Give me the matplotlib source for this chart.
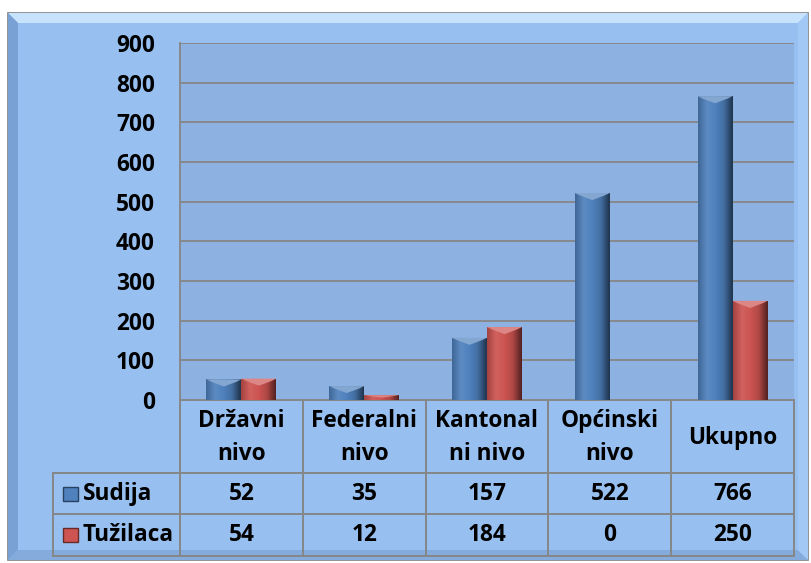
import numpy as np
import matplotlib
matplotlib.use('Agg')
import matplotlib.pyplot as plt
from matplotlib.patches import Rectangle, Polygon
from matplotlib.colors import LinearSegmentedColormap

# 數據
categories = ['Državni\nnivo', 'Federalni\nnivo', 'Kantonal\nni nivo', 'Općinski\nnivo', 'Ukupno']
series_names = ['Sudija', 'Tužilaca']
sudija = [52, 35, 157, 522, 766]
tuzilaca = [54, 12, 184, 0, 250]
y_ticks = [0, 100, 200, 300, 400, 500, 600, 700, 800, 900]

W, H = 812, 563
FONT = 'Open Sans'
FS = 16.3

# 版面 (像素)
plot_l, plot_r, plot_t, plot_b = 180, 794, 43, 400
tab_l = 53
row_lines = [400, 473, 514, 556]

outer_bg = '#97bff0'
plot_bg = '#8db2e2'
grid_c = '#868686'
blue = '#4f81bd'
red = '#cd5451'

fig = plt.figure(figsize=(W / 100, H / 100), dpi=100)
fig.patch.set_facecolor('white')

# 背景/框架層
bg = fig.add_axes([0, 0, 1, 1])
bg.set_xlim(0, W)
bg.set_ylim(H, 0)
bg.axis('off')
fx0, fy0, fx1, fy1 = 8, 13, 808, 560
bg.add_patch(Rectangle((fx0, fy0), fx1 - fx0, fy1 - fy0, facecolor=outer_bg,
                       edgecolor='#7f7f7f', linewidth=1.2, zorder=0))
b = 10
bg.add_patch(Polygon([(fx0, fy0), (fx1, fy0), (fx1 - b, fy0 + b), (fx0 + b, fy0 + b)],
                     closed=True, facecolor='#c6e2fd', edgecolor='none', zorder=1))
bg.add_patch(Polygon([(fx0, fy0), (fx0 + b, fy0 + b), (fx0 + b, fy1 - b), (fx0, fy1)],
                     closed=True, facecolor='#7aa1d3', edgecolor='none', zorder=1))
bg.add_patch(Polygon([(fx0, fy1), (fx0 + b, fy1 - b), (fx1 - b, fy1 - b), (fx1, fy1)],
                     closed=True, facecolor='#84abdc', edgecolor='none', zorder=1))
bg.add_patch(Polygon([(fx1, fy0), (fx1 - b, fy0 + b), (fx1 - b, fy1 - b), (fx1, fy1)],
                     closed=True, facecolor='#a2c8f5', edgecolor='none', zorder=1))
bg.add_patch(Rectangle((fx0 + b, fy0 + b), fx1 - fx0 - 2 * b, fy1 - fy0 - 2 * b,
                       facecolor=outer_bg, edgecolor='none', zorder=1))

# 柱狀圖
ax = fig.add_axes([plot_l / W, 1 - plot_b / H, (plot_r - plot_l) / W, (plot_b - plot_t) / H])
ax.set_facecolor(plot_bg)
ax.set_xlim(-0.5, len(categories) - 0.5)
ax.set_ylim(0, 900)
ax.set_yticks(y_ticks)
ax.set_xticks([])
ax.yaxis.grid(True, color=grid_c, linewidth=1.3)
ax.set_axisbelow(True)
for s in ['top', 'right', 'bottom']:
    ax.spines[s].set_visible(False)
ax.spines['left'].set_color(grid_c)
ax.spines['left'].set_linewidth(1.3)
ax.tick_params(axis='y', length=0, pad=18)
for lab in ax.get_yticklabels():
    lab.set_fontfamily(FONT)
    lab.set_fontweight('bold')
    lab.set_fontsize(FS)

bw = 0.285
x = np.arange(len(categories))


def shade(c, f):
    c = np.array(matplotlib.colors.to_rgb(c))
    if f < 1:
        return tuple(c * f)
    return tuple(c + (1 - c) * (f - 1))


def fancy_bars(xs, vals, color):
    cmap = LinearSegmentedColormap.from_list('g', [shade(color, 0.8), shade(color, 1.08),
                                                   color, shade(color, 0.85), shade(color, 0.4)])
    grad = np.linspace(0, 1, 64).reshape(1, -1)
    bars = ax.bar(xs, vals, bw, color=color, zorder=2, linewidth=0)
    for rect, v in zip(bars, vals):
        if v <= 0:
            continue
        x0 = rect.get_x()
        im = ax.imshow(grad, cmap=cmap, aspect='auto', extent=(x0, x0 + bw, 0, v),
                       zorder=3, interpolation='bicubic')
        im.set_clip_path(rect)
        # 頂部的V形高光
        cap = min(18, v * 0.5)
        ax.add_patch(Polygon([(x0, v), (x0 + bw, v), (x0 + bw * 0.85, v - cap * 0.35),
                              (x0 + bw * 0.5, v - cap), (x0 + bw * 0.15, v - cap * 0.35)],
                             closed=True, facecolor=shade(color, 1.3), edgecolor='none',
                             zorder=4))


fancy_bars(x - bw / 2, sudija, blue)
fancy_bars(x + bw / 2, tuzilaca, red)

# 數據表
col_w = (plot_r - plot_l) / len(categories)
lc = grid_c
lw = 1.4
col_edges = [plot_l + i * col_w for i in range(len(categories) + 1)]
for xe in col_edges:
    bg.plot([xe, xe], [row_lines[0], row_lines[-1]], color=lc, lw=lw, zorder=5)
bg.plot([tab_l, tab_l], [row_lines[1], row_lines[-1]], color=lc, lw=lw, zorder=5)
bg.plot([plot_l, plot_r], [row_lines[0], row_lines[0]], color=lc, lw=lw, zorder=5)
for yl in row_lines[1:]:
    bg.plot([tab_l, plot_r], [yl, yl], color=lc, lw=lw, zorder=5)

txt = dict(fontfamily=FONT, fontweight='bold', fontsize=FS, ha='center', va='center',
           zorder=6, linespacing=1.55)
for i, cat in enumerate(categories):
    cx = plot_l + (i + 0.5) * col_w
    bg.text(cx, (row_lines[0] + row_lines[1]) / 2 + 1, cat, **txt)
    bg.text(cx, (row_lines[1] + row_lines[2]) / 2, str(sudija[i]), **txt)
    bg.text(cx, (row_lines[2] + row_lines[3]) / 2, str(tuzilaca[i]), **txt)

for j, (name, color) in enumerate(zip(series_names, [blue, red])):
    cy = (row_lines[j + 1] + row_lines[j + 2]) / 2
    bg.add_patch(Rectangle((tab_l + 10, cy - 7), 15, 14, facecolor=color,
                           edgecolor=shade(color, 0.5), linewidth=1, zorder=6))
    bg.text(tab_l + 30, cy, name, fontfamily=FONT, fontweight='bold', fontsize=FS,
            ha='left', va='center', zorder=6)

plt.savefig('out.png', dpi=100)
plt.close()
